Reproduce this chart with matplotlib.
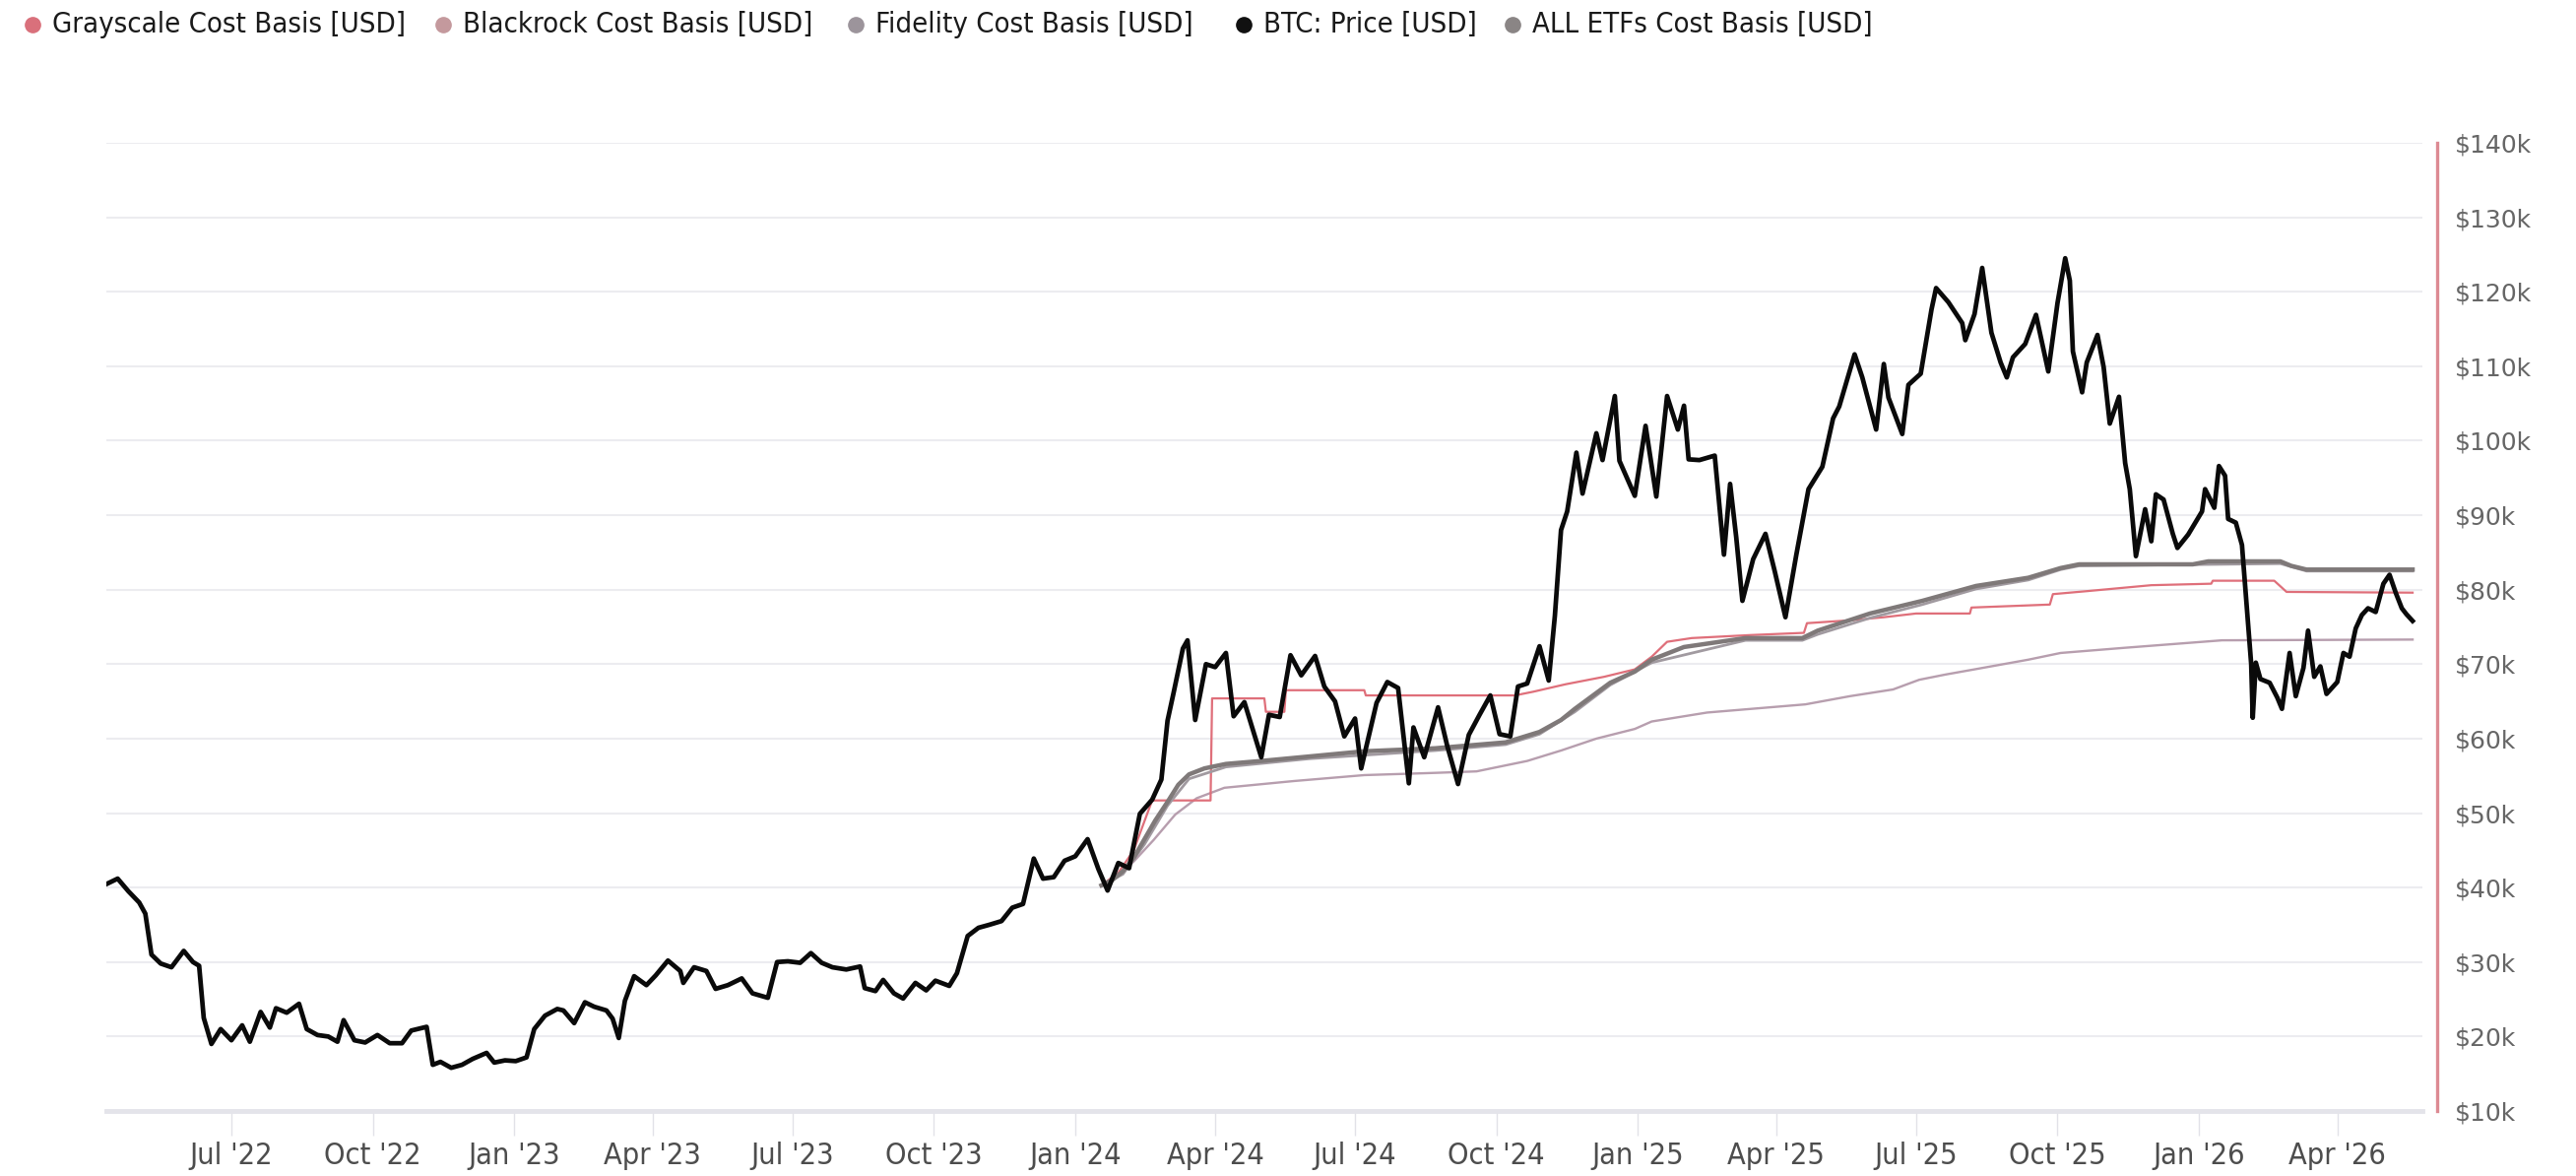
import numpy as np
import pandas as pd
import matplotlib
matplotlib.use("Agg")
import matplotlib.pyplot as plt
import matplotlib.dates as mdates
from matplotlib.lines import Line2D
from matplotlib.ticker import FuncFormatter
from datetime import datetime

# BTC price, k USD
btc_dates = [
    "2022-04-11", "2022-04-18", "2022-04-25", "2022-05-02", "2022-05-06", "2022-05-10", "2022-05-16", "2022-05-23",
    "2022-05-31", "2022-06-06", "2022-06-10", "2022-06-13", "2022-06-18", "2022-06-24", "2022-07-01", "2022-07-08",
    "2022-07-13", "2022-07-20", "2022-07-26", "2022-07-30", "2022-08-06", "2022-08-14", "2022-08-19", "2022-08-26",
    "2022-09-02", "2022-09-08", "2022-09-12", "2022-09-19", "2022-09-26", "2022-10-04", "2022-10-12", "2022-10-20",
    "2022-10-26", "2022-11-05", "2022-11-09", "2022-11-14", "2022-11-21", "2022-11-28", "2022-12-05", "2022-12-14",
    "2022-12-19", "2022-12-26",
    "2023-01-02", "2023-01-09", "2023-01-14", "2023-01-21", "2023-01-29", "2023-02-02", "2023-02-09", "2023-02-16",
    "2023-02-22", "2023-03-02", "2023-03-06", "2023-03-10", "2023-03-14", "2023-03-20", "2023-03-28", "2023-04-03",
    "2023-04-11", "2023-04-19", "2023-04-21", "2023-04-28", "2023-05-06", "2023-05-12", "2023-05-20", "2023-05-29",
    "2023-06-05", "2023-06-15", "2023-06-21", "2023-06-28", "2023-07-06", "2023-07-13", "2023-07-20", "2023-07-27",
    "2023-08-05", "2023-08-14", "2023-08-17", "2023-08-24", "2023-08-29", "2023-09-05", "2023-09-11", "2023-09-19",
    "2023-09-26", "2023-10-02", "2023-10-11", "2023-10-16", "2023-10-23", "2023-10-30", "2023-11-06", "2023-11-14",
    "2023-11-21", "2023-11-28", "2023-12-05", "2023-12-11", "2023-12-18", "2023-12-25",
    "2024-01-01", "2024-01-09", "2024-01-16", "2024-01-22", "2024-01-29", "2024-02-05", "2024-02-12", "2024-02-20",
    "2024-02-26", "2024-03-01", "2024-03-05", "2024-03-11", "2024-03-14", "2024-03-19", "2024-03-26", "2024-04-01",
    "2024-04-08", "2024-04-13", "2024-04-20", "2024-05-01", "2024-05-06", "2024-05-13", "2024-05-20", "2024-05-27",
    "2024-06-05", "2024-06-11", "2024-06-18", "2024-06-24", "2024-07-01", "2024-07-05", "2024-07-15", "2024-07-22",
    "2024-07-29", "2024-08-05", "2024-08-08", "2024-08-15", "2024-08-24", "2024-08-30", "2024-09-06", "2024-09-13",
    "2024-09-20", "2024-09-27", "2024-10-03", "2024-10-10", "2024-10-15", "2024-10-21", "2024-10-29", "2024-11-04",
    "2024-11-08", "2024-11-12", "2024-11-16", "2024-11-22", "2024-11-26", "2024-12-05", "2024-12-09", "2024-12-17",
    "2024-12-20", "2024-12-30",
    "2025-01-06", "2025-01-13", "2025-01-20", "2025-01-27", "2025-01-31", "2025-02-03", "2025-02-10", "2025-02-20",
    "2025-02-26", "2025-03-02", "2025-03-06", "2025-03-10", "2025-03-17", "2025-03-25", "2025-03-31", "2025-04-07",
    "2025-04-14", "2025-04-22", "2025-05-01", "2025-05-08", "2025-05-12", "2025-05-22", "2025-05-27", "2025-06-05",
    "2025-06-10", "2025-06-13", "2025-06-22", "2025-06-26", "2025-07-04", "2025-07-11", "2025-07-14", "2025-07-22",
    "2025-07-31", "2025-08-02", "2025-08-08", "2025-08-13", "2025-08-19", "2025-08-25", "2025-08-29", "2025-09-02",
    "2025-09-10", "2025-09-17", "2025-09-25", "2025-10-01", "2025-10-06", "2025-10-09", "2025-10-11", "2025-10-17",
    "2025-10-20", "2025-10-27", "2025-10-31", "2025-11-04", "2025-11-10", "2025-11-14", "2025-11-17", "2025-11-21",
    "2025-11-27", "2025-12-01", "2025-12-04", "2025-12-09", "2025-12-15", "2025-12-18", "2025-12-25",
    "2026-01-03", "2026-01-05", "2026-01-11", "2026-01-14", "2026-01-18", "2026-01-20", "2026-01-25", "2026-01-29",
    "2026-02-01", "2026-02-04", "2026-02-05", "2026-02-07", "2026-02-10", "2026-02-16", "2026-02-21", "2026-02-24",
    "2026-03-01", "2026-03-05", "2026-03-10", "2026-03-13", "2026-03-17", "2026-03-21", "2026-03-25", "2026-04-01",
    "2026-04-05", "2026-04-09", "2026-04-13", "2026-04-17", "2026-04-21", "2026-04-26", "2026-05-01", "2026-05-05",
    "2026-05-09", "2026-05-13", "2026-05-16", "2026-05-20",
]
btc_price = [
    40.5, 41.2, 39.5, 38.0, 36.5, 31.0, 29.8, 29.3,
    31.5, 30.0, 29.5, 22.5, 19.0, 21.0, 19.5, 21.5,
    19.3, 23.3, 21.2, 23.8, 23.2, 24.4, 21.0, 20.2,
    20.0, 19.3, 22.2, 19.5, 19.2, 20.2, 19.1, 19.1,
    20.8, 21.3, 16.2, 16.6, 15.8, 16.2, 17.0, 17.8,
    16.5, 16.8,
    16.7, 17.2, 21.0, 22.8, 23.7, 23.5, 21.8, 24.6,
    24.0, 23.5, 22.4, 19.8, 24.8, 28.1, 26.9, 28.2,
    30.2, 28.8, 27.2, 29.3, 28.8, 26.4, 26.9, 27.8,
    25.8, 25.2, 30.0, 30.1, 29.9, 31.2, 29.9, 29.3,
    29.0, 29.4, 26.5, 26.1, 27.6, 25.8, 25.1, 27.2,
    26.2, 27.5, 26.8, 28.5, 33.5, 34.6, 35.0, 35.5,
    37.3, 37.8, 43.9, 41.2, 41.4, 43.6,
    44.2, 46.5, 42.5, 39.6, 43.3, 42.6, 49.9, 51.8,
    54.5, 62.4, 66.2, 72.1, 73.2, 62.5, 70.0, 69.6,
    71.5, 63.0, 64.9, 57.5, 63.2, 62.9, 71.2, 68.5,
    71.1, 67.0, 65.0, 60.3, 62.7, 56.0, 64.8, 67.6,
    66.8, 54.0, 61.5, 57.5, 64.2, 59.0, 53.9, 60.5,
    63.2, 65.8, 60.6, 60.3, 67.0, 67.4, 72.4, 67.8,
    76.5, 88.0, 90.5, 98.4, 92.9, 101.0, 97.4, 106.0,
    97.3, 92.6,
    102.0, 92.5, 106.0, 101.5, 104.7, 97.5, 97.4, 98.0,
    84.7, 94.2, 87.0, 78.5, 84.1, 87.5, 82.5, 76.3,
    84.6, 93.5, 96.5, 103.0, 104.6, 111.6, 108.5, 101.5,
    110.3, 105.8, 100.9, 107.5, 109.0, 117.6, 120.5, 118.6,
    115.8, 113.5, 117.0, 123.2, 114.5, 110.5, 108.5, 111.2,
    113.0, 116.9, 109.3, 118.5, 124.5, 121.5, 112.0, 106.5,
    110.5, 114.2, 109.9, 102.3, 105.9, 97.0, 93.5, 84.5,
    90.8, 86.5, 92.8, 92.1, 87.5, 85.6, 87.4,
    90.5, 93.5, 91.0, 96.6, 95.3, 89.5, 89.0, 86.0,
    78.0, 70.0, 62.8, 70.2, 68.0, 67.5, 65.5, 64.0,
    71.5, 65.7, 69.5, 74.5, 68.3, 69.7, 66.0, 67.6,
    71.5, 71.0, 74.8, 76.6, 77.5, 77.0, 80.8, 82.0,
    79.6, 77.5, 76.7, 75.8,
]

# ETF cost basis lines, k USD
all_dates = ["2024-01-18", "2024-01-25", "2024-02-01", "2024-02-08", "2024-02-15", "2024-02-22", "2024-03-01",
             "2024-03-08", "2024-03-15", "2024-03-25", "2024-04-08", "2024-05-01", "2024-06-01", "2024-07-07",
             "2024-08-22", "2024-10-07", "2024-10-29", "2024-11-12", "2024-11-21", "2024-12-14", "2024-12-30",
             "2025-01-10", "2025-01-31", "2025-03-12", "2025-04-18", "2025-04-28", "2025-06-01", "2025-07-05",
             "2025-08-09", "2025-09-12", "2025-10-03", "2025-10-15", "2025-12-28", "2026-01-07", "2026-02-23",
             "2026-03-02", "2026-03-12", "2026-05-20"]
all_cb = [40.3, 41.0, 42.2, 44.0, 46.5, 49.0, 51.5,
          53.8, 55.2, 56.0, 56.6, 57.0, 57.6, 58.3,
          58.7, 59.5, 60.9, 62.5, 64.0, 67.5, 69.0,
          70.6, 72.3, 73.5, 73.5, 74.5, 76.8, 78.5,
          80.5, 81.6, 82.9, 83.4, 83.4, 83.8, 83.8,
          83.2, 82.7, 82.7]

fid_dates = ["2024-01-18", "2024-02-01", "2024-02-15", "2024-03-01", "2024-03-15", "2024-04-08", "2024-06-01",
             "2024-08-22", "2024-10-07", "2024-10-29", "2024-11-21", "2024-12-14", "2025-01-10", "2025-03-12",
             "2025-04-18", "2025-04-28", "2025-06-01", "2025-07-05", "2025-08-09", "2025-09-12", "2025-10-03",
             "2025-10-15", "2026-02-23", "2026-03-12", "2026-05-20"]
fid_cb = [40.3, 41.8, 45.8, 51.0, 54.6, 56.2, 57.3,
          58.4, 59.2, 60.6, 63.6, 67.2, 70.2, 73.2,
          73.2, 74.0, 76.2, 78.0, 80.1, 81.3, 82.7,
          83.2, 83.5, 82.5, 82.5]

blk_dates = ["2024-01-18", "2024-01-29", "2024-02-08", "2024-02-21", "2024-03-06", "2024-03-20", "2024-04-07",
             "2024-05-22", "2024-07-07", "2024-08-22", "2024-09-18", "2024-10-21", "2024-11-12", "2024-12-05",
             "2024-12-30", "2025-01-10", "2025-02-15", "2025-04-20", "2025-05-19", "2025-06-16", "2025-07-03",
             "2025-07-20", "2025-08-08", "2025-09-12", "2025-10-03", "2025-11-14", "2026-01-16", "2026-05-20"]
blk_cb = [40.3, 41.5, 43.5, 46.4, 49.8, 52.0, 53.4,
          54.3, 55.1, 55.4, 55.6, 57.0, 58.4, 60.0,
          61.3, 62.3, 63.5, 64.6, 65.7, 66.6, 67.9,
          68.6, 69.3, 70.6, 71.5, 72.2, 73.2, 73.3]

gs_dates = ["2024-01-18", "2024-01-29", "2024-02-08", "2024-02-20", "2024-03-29", "2024-03-30", "2024-05-03",
            "2024-05-04", "2024-05-16", "2024-05-17", "2024-07-07", "2024-07-08", "2024-10-13", "2024-10-25",
            "2024-11-15", "2024-12-10", "2024-12-30", "2025-01-10", "2025-01-20", "2025-02-05", "2025-03-15",
            "2025-04-19", "2025-04-21", "2025-05-20", "2025-06-10", "2025-07-01", "2025-08-05", "2025-08-06",
            "2025-09-26", "2025-09-28", "2025-10-20", "2025-12-01", "2026-01-09", "2026-01-10", "2026-02-19",
            "2026-02-27", "2026-05-20"]
gs_cb = [40.3, 42.0, 45.0, 51.7, 51.7, 65.4, 65.4,
         63.6, 63.6, 66.5, 66.5, 65.8, 65.8, 66.3,
         67.3, 68.3, 69.3, 71.0, 73.0, 73.5, 73.9,
         74.2, 75.5, 75.9, 76.3, 76.8, 76.8, 77.6,
         78.0, 79.4, 79.8, 80.6, 80.8, 81.2, 81.2,
         79.7, 79.6]

tick_dates = ["2022-07-01", "2022-10-01", "2023-01-01", "2023-04-01", "2023-07-01", "2023-10-01", "2024-01-01",
              "2024-04-01", "2024-07-01", "2024-10-01", "2025-01-01", "2025-04-01", "2025-07-01", "2025-10-01",
              "2026-01-01", "2026-04-01"]
y_ticks = list(range(10, 150, 10))

series_names = ["Grayscale Cost Basis [USD]", "Blackrock Cost Basis [USD]", "Fidelity Cost Basis [USD]",
                "BTC: Price [USD]", "ALL ETFs Cost Basis [USD]"]
dot_colors = ["#d9707b", "#c4999d", "#9c949b", "#111111", "#8a8585"]
legend_x = [33, 450, 869, 1263, 1536]   # px, where each legend entry starts

W, H = 2616, 1194
fig = plt.figure(figsize=(W / 100, H / 100), dpi=100)
ax = fig.add_axes([108 / W, (H - 1128) / H, (2460 - 108) / W, (1128 - 145) / H])

td = lambda s: pd.to_datetime(s)
ax.plot(td(blk_dates), blk_cb, color="#b79eae", lw=1.7, zorder=3)
ax.plot(td(gs_dates), gs_cb, color="#df6f7a", lw=1.6, zorder=4)
ax.plot(td(fid_dates), fid_cb, color="#a19aa0", lw=2.0, zorder=4)
ax.plot(td(all_dates), all_cb, color="#7f7979", lw=3.2, zorder=5)
ax.plot(td(btc_dates), btc_price, color="#0a0a0a", lw=3.4, zorder=6, solid_joinstyle="round")

x0 = mdates.date2num(datetime(2022, 7, 1))
ax.set_xlim(x0 - (235 - 108) / 1.561, x0 + (2460 - 235) / 1.561)
ax.set_ylim(10, 140)

ax.set_yticks(y_ticks)
ax.yaxis.set_major_formatter(FuncFormatter(lambda v, p: f"${int(v)}k"))
ax.yaxis.tick_right()
ax.tick_params(axis="y", length=0, pad=13, labelsize=18, labelcolor="#666666")
ax.grid(axis="y", color="#ececf0", lw=1.5)
ax.set_axisbelow(True)

ax.set_xticks(td(tick_dates))
ax.xaxis.set_major_formatter(mdates.DateFormatter("%b '%y"))
ax.tick_params(axis="x", length=18, width=1, color="#e2e2e8", pad=4, labelsize=22, labelcolor="#4d4d4d")
for lab in ax.get_xticklabels():
    lab.set_fontstretch("condensed")

for s in ["left", "top"]:
    ax.spines[s].set_visible(False)
ax.spines["bottom"].set_color("#e4e4ea")
ax.spines["bottom"].set_linewidth(3.5)
ax.spines["right"].set_position(("outward", 11))
ax.spines["right"].set_color("#dc8a93")
ax.spines["right"].set_linewidth(2.4)

# legend row across the top
ly = 1 - 25 / H
for x, c, name in zip(legend_x, dot_colors, series_names):
    fig.add_artist(Line2D([x / W], [ly], marker="o", ls="none", color=c, markersize=11,
                          transform=fig.transFigure))
    fig.text((x + 20) / W, ly, name, ha="left", va="center", fontsize=21, color="#1a1a1a",
             fontstretch="condensed")

fig.savefig("out.png", dpi=100, facecolor="white")
